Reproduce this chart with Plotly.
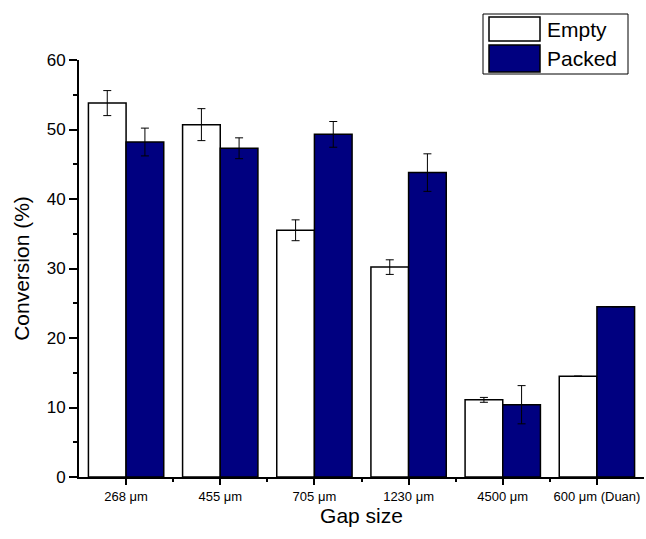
import numpy as np
import plotly.graph_objects as go

# Gap sizes and measured conversion (%)
categories = ["268 μm", "455 μm", "705 μm", "1230 μm", "4500 μm", "600 μm (Duan)"]
empty_vals = [53.8, 50.7, 35.5, 30.2, 11.1, 14.5]
empty_err = [1.8, 2.3, 1.5, 1.05, 0.35, None]
packed_vals = [48.2, 47.3, 49.3, 43.8, 10.4, 24.5]
packed_err = [2.0, 1.5, 1.85, 2.7, 2.75, None]

x = np.arange(len(categories))
FONT = "Liberation Sans, Arial, sans-serif"

fig = go.Figure()
fig.add_trace(go.Bar(
    x=x, y=empty_vals, name="Empty", offsetgroup="e",
    marker=dict(color="white", line=dict(color="black", width=1.5)),
    error_y=dict(type="data", array=empty_err, color="black", thickness=1, width=4),
    showlegend=False,
))
fig.add_trace(go.Bar(
    x=x, y=packed_vals, name="Packed", offsetgroup="p",
    marker=dict(color="#000080", line=dict(color="black", width=1.5)),
    error_y=dict(type="data", array=packed_err, color="black", thickness=1, width=4),
    showlegend=False,
))

fig.update_layout(
    width=646, height=539,
    margin=dict(l=79, r=2, t=60, b=62),
    paper_bgcolor="white", plot_bgcolor="white",
    barmode="group", bargap=0.2, bargroupgap=0,
    font=dict(family=FONT, color="black"),
)
fig.update_xaxes(
    range=[-0.5, len(categories) - 0.5],
    tickmode="array", tickvals=x, ticktext=categories,
    tickfont=dict(size=13),
    ticks="outside", ticklen=6, tickwidth=2, tickcolor="black",
    minor=dict(tickmode="array", tickvals=x[:-1] + 0.5, ticks="outside", ticklen=3, tickwidth=2, tickcolor="black"),
    showline=True, linecolor="black", linewidth=2,
    showgrid=False, zeroline=False,
    title=dict(text="Gap size", font=dict(size=21), standoff=6),
)
fig.update_yaxes(
    range=[0, 60], dtick=10, tick0=0,
    tickfont=dict(size=17),
    ticks="outside", ticklen=8, tickwidth=2, tickcolor="black",
    minor=dict(dtick=5, ticks="outside", ticklen=4, tickwidth=2, tickcolor="black"),
    showline=True, linecolor="black", linewidth=2,
    showgrid=False, zeroline=False,
    title=dict(text="Conversion (%)", font=dict(size=21), standoff=11),
)

# Framed legend with large swatches (positions given in pixels of the figure)
px_w, px_h = 565.0, 417.0
def px_x(p):
    return (p - 79) / px_w
def px_y(p):
    return (477 - p) / px_h

fig.add_shape(type="rect", xref="paper", yref="paper",
              x0=px_x(483), x1=px_x(628), y0=px_y(74), y1=px_y(14),
              line=dict(color="black", width=1), fillcolor="white", layer="above")
legend_items = [("Empty", "white", 17, 41), ("Packed", "#000080", 45, 72)]
for label, color, top, bottom in legend_items:
    fig.add_shape(type="rect", xref="paper", yref="paper",
                  x0=px_x(489), x1=px_x(540), y0=px_y(bottom), y1=px_y(top),
                  line=dict(color="black", width=1.5), fillcolor=color, layer="above")
    fig.add_annotation(xref="paper", yref="paper", x=px_x(545), y=px_y((top + bottom) / 2),
                       text=label, showarrow=False, xanchor="left", yanchor="middle",
                       font=dict(size=21, family=FONT, color="black"))

fig.write_html("out.html")
